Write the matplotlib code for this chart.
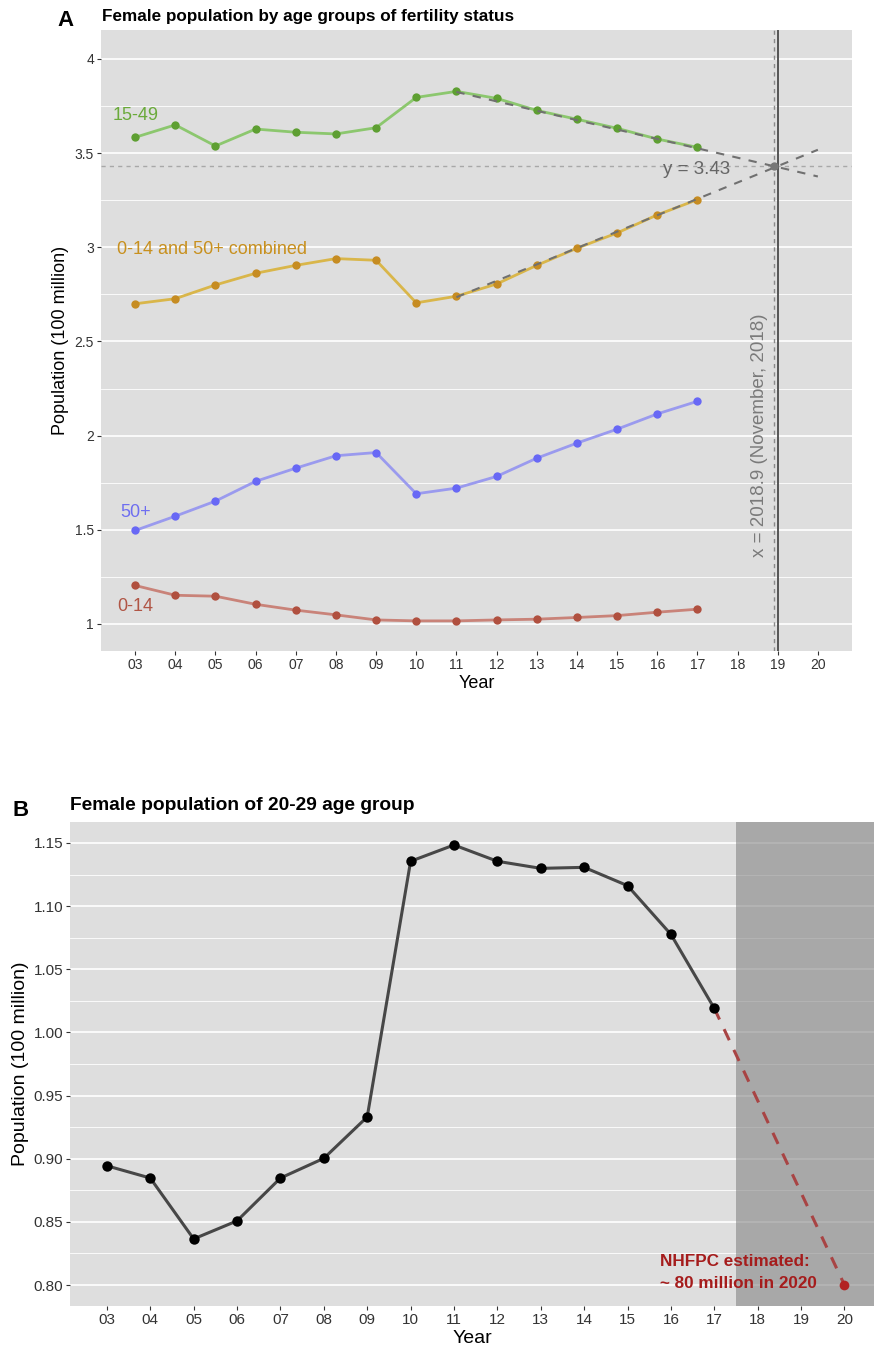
import numpy as np
import matplotlib
matplotlib.use("Agg")
import matplotlib.pyplot as plt
from matplotlib.ticker import MultipleLocator, FormatStrFormatter

plt.rcParams["font.family"] = ["Liberation Sans", "DejaVu Sans"]

# ---- data: panel A (100 million), years 2003-2017 ----
years = np.arange(3, 18)
pop_15_49 = [3.584, 3.650, 3.538, 3.628, 3.611, 3.602, 3.635, 3.796, 3.828,
             3.791, 3.727, 3.680, 3.632, 3.575, 3.531]
pop_combined = [2.700, 2.727, 2.800, 2.862, 2.904, 2.940, 2.931, 2.705, 2.740,
                2.805, 2.904, 2.995, 3.076, 3.172, 3.253]
pop_50plus = [1.496, 1.572, 1.652, 1.757, 1.827, 1.893, 1.910, 1.691, 1.721,
              1.783, 1.880, 1.960, 2.034, 2.115, 2.182]
pop_0_14 = [1.204, 1.152, 1.147, 1.104, 1.073, 1.048, 1.021, 1.016, 1.016,
            1.021, 1.025, 1.034, 1.044, 1.062, 1.078]
# trend lines (start 2011, end 2020)
trend_x = [11, 20]
trend_15_49 = [3.825, 3.376]
trend_combined = [2.735, 3.518]
cross_x, cross_y = 18.9, 3.43

# ---- data: panel B, 20-29 age group ----
pop_20_29 = [0.8944, 0.8847, 0.8365, 0.8508, 0.8847, 0.9003, 0.9331, 1.1355,
             1.1484, 1.1355, 1.1299, 1.1307, 1.1162, 1.0776, 1.019]
est_x = [17, 20]
est_y = [1.019, 0.80]

tick_years = np.arange(3, 21)
tick_labels = [f"{y:02d}" for y in tick_years]

W, H = 874, 1350
fig = plt.figure(figsize=(W / 100, H / 100), dpi=100)
BG = "#DEDEDE"


def px_axes(l, t, r, b):
    return fig.add_axes([l / W, 1 - b / H, (r - l) / W, (b - t) / H])


def style(ax, xlim, ylim, fs_tick):
    ax.set_facecolor(BG)
    for s in ax.spines.values():
        s.set_visible(False)
    ax.set_xlim(*xlim); ax.set_ylim(*ylim)
    ax.set_xticks(tick_years); ax.set_xticklabels(tick_labels)
    ax.grid(which="major", axis="y", color="white", lw=1.2)
    ax.grid(which="minor", axis="y", color="white", lw=0.6)
    ax.tick_params(axis="both", which="major", length=3, width=0.8, color="#333333",
                   labelsize=fs_tick, labelcolor="#333333", pad=2)
    ax.tick_params(axis="y", which="minor", length=0)
    ax.tick_params(axis="x", which="minor", length=0)
    ax.set_axisbelow(True)


# ================= Panel A =================
ax = px_axes(101, 30, 852, 651)
style(ax, (2.15, 20.85), (0.856, 4.154), 10)
ax.yaxis.set_major_locator(MultipleLocator(0.5))
ax.yaxis.set_minor_locator(MultipleLocator(0.25))
ax.set_yticks([1, 1.5, 2, 2.5, 3, 3.5, 4])
ax.set_yticklabels(["1", "1.5", "2", "2.5", "3", "3.5", "4"])

series = [
    (pop_15_49, "#8CC76E", "#5E9F32"),
    (pop_combined, "#D9B64A", "#C68C22"),
    (pop_50plus, "#9A9AEE", "#6868F5"),
    (pop_0_14, "#C98379", "#B0503F"),
]
for vals, lc, pc in series:
    ax.plot(years, vals, "-", color=lc, lw=2.0, zorder=3)
    ax.plot(years, vals, "o", color=pc, ms=6, mec="none", zorder=4)

ax.axhline(cross_y, color="#A8A8A8", lw=1, ls=(0, (3, 3)), zorder=2)
ax.axvline(cross_x, color="#8A8A8A", lw=1, ls=(0, (3, 3)), zorder=2)
ax.axvline(19, color="#555555", lw=1.4, zorder=2)
ax.plot(trend_x, trend_15_49, color="#707070", lw=1.5, ls=(0, (4, 4)), zorder=5)
ax.plot(trend_x, trend_combined, color="#707070", lw=1.5, ls=(0, (4, 4)), zorder=5)
ax.plot([cross_x], [cross_y], "o", color="#777777", ms=6, mec="none", zorder=6)

ax.text(17.81, 3.413, f"y = {cross_y}", ha="right", va="center", fontsize=13.5, color="#666666")
ax.text(18.55, 2.0, f"x = 2018.9 (November, 2018)", rotation=90, ha="center", va="center",
        fontsize=13.5, color="#7A7A7A")
ax.text(3.0, 3.70, "15-49", ha="center", va="center", fontsize=13, color="#6AAA3A")
ax.text(2.55, 2.99, "0-14 and 50+ combined", ha="left", va="center", fontsize=13, color="#C8901E")
ax.text(3.0, 1.594, "50+", ha="center", va="center", fontsize=13, color="#6E6EF0")
ax.text(3.0, 1.094, "0-14", ha="center", va="center", fontsize=13, color="#B05545")

ax.set_xlabel("Year", fontsize=13, labelpad=2)
ax.set_ylabel("Population (100 million)", fontsize=13, labelpad=4)
fig.text(65 / W, 1 - 21 / H, "A", fontsize=16, fontweight="bold", ha="center", va="center")
fig.text(102 / W, 1 - 17 / H, "Female population by age groups of fertility status",
         fontsize=12.3, fontweight="bold", ha="left", va="center")

# ================= Panel B =================
bx = px_axes(70, 822, 874, 1306)
style(bx, (2.15, 20.68), (0.7834, 1.1666), 11)
bx.yaxis.set_major_locator(MultipleLocator(0.05))
bx.yaxis.set_minor_locator(MultipleLocator(0.025))
bx.yaxis.set_major_formatter(FormatStrFormatter("%.2f"))
bx.axvspan(17.5, 21, color="#7F7F7F", alpha=0.57, lw=0, zorder=1.5)
bx.plot(years, pop_20_29, "-", color="#474747", lw=2.2, zorder=3)
bx.plot(years, pop_20_29, "o", color="black", ms=7.5, mec="none", zorder=4)
bx.plot(est_x, est_y, color="#A84444", lw=2.2, ls=(0, (4, 3.5)), zorder=3)
bx.plot([est_x[1]], [est_y[1]], "o", color="#B22222", ms=7, mec="none", zorder=4)
bx.text(15.75, 0.8097, "NHFPC estimated:\n~ 80 million in 2020", ha="left", va="center",
        fontsize=12.3, fontweight="bold", color="#A51C1C", linespacing=1.55)
bx.set_xlabel("Year", fontsize=14, labelpad=2)
bx.set_ylabel("Population (100 million)", fontsize=14, labelpad=3)
fig.text(21 / W, 1 - 810 / H, "B", fontsize=16, fontweight="bold", ha="center", va="center")
fig.text(70 / W, 1 - 806 / H, "Female population of 20-29 age group",
         fontsize=13.8, fontweight="bold", ha="left", va="center")

fig.savefig("out.png", dpi=100)
